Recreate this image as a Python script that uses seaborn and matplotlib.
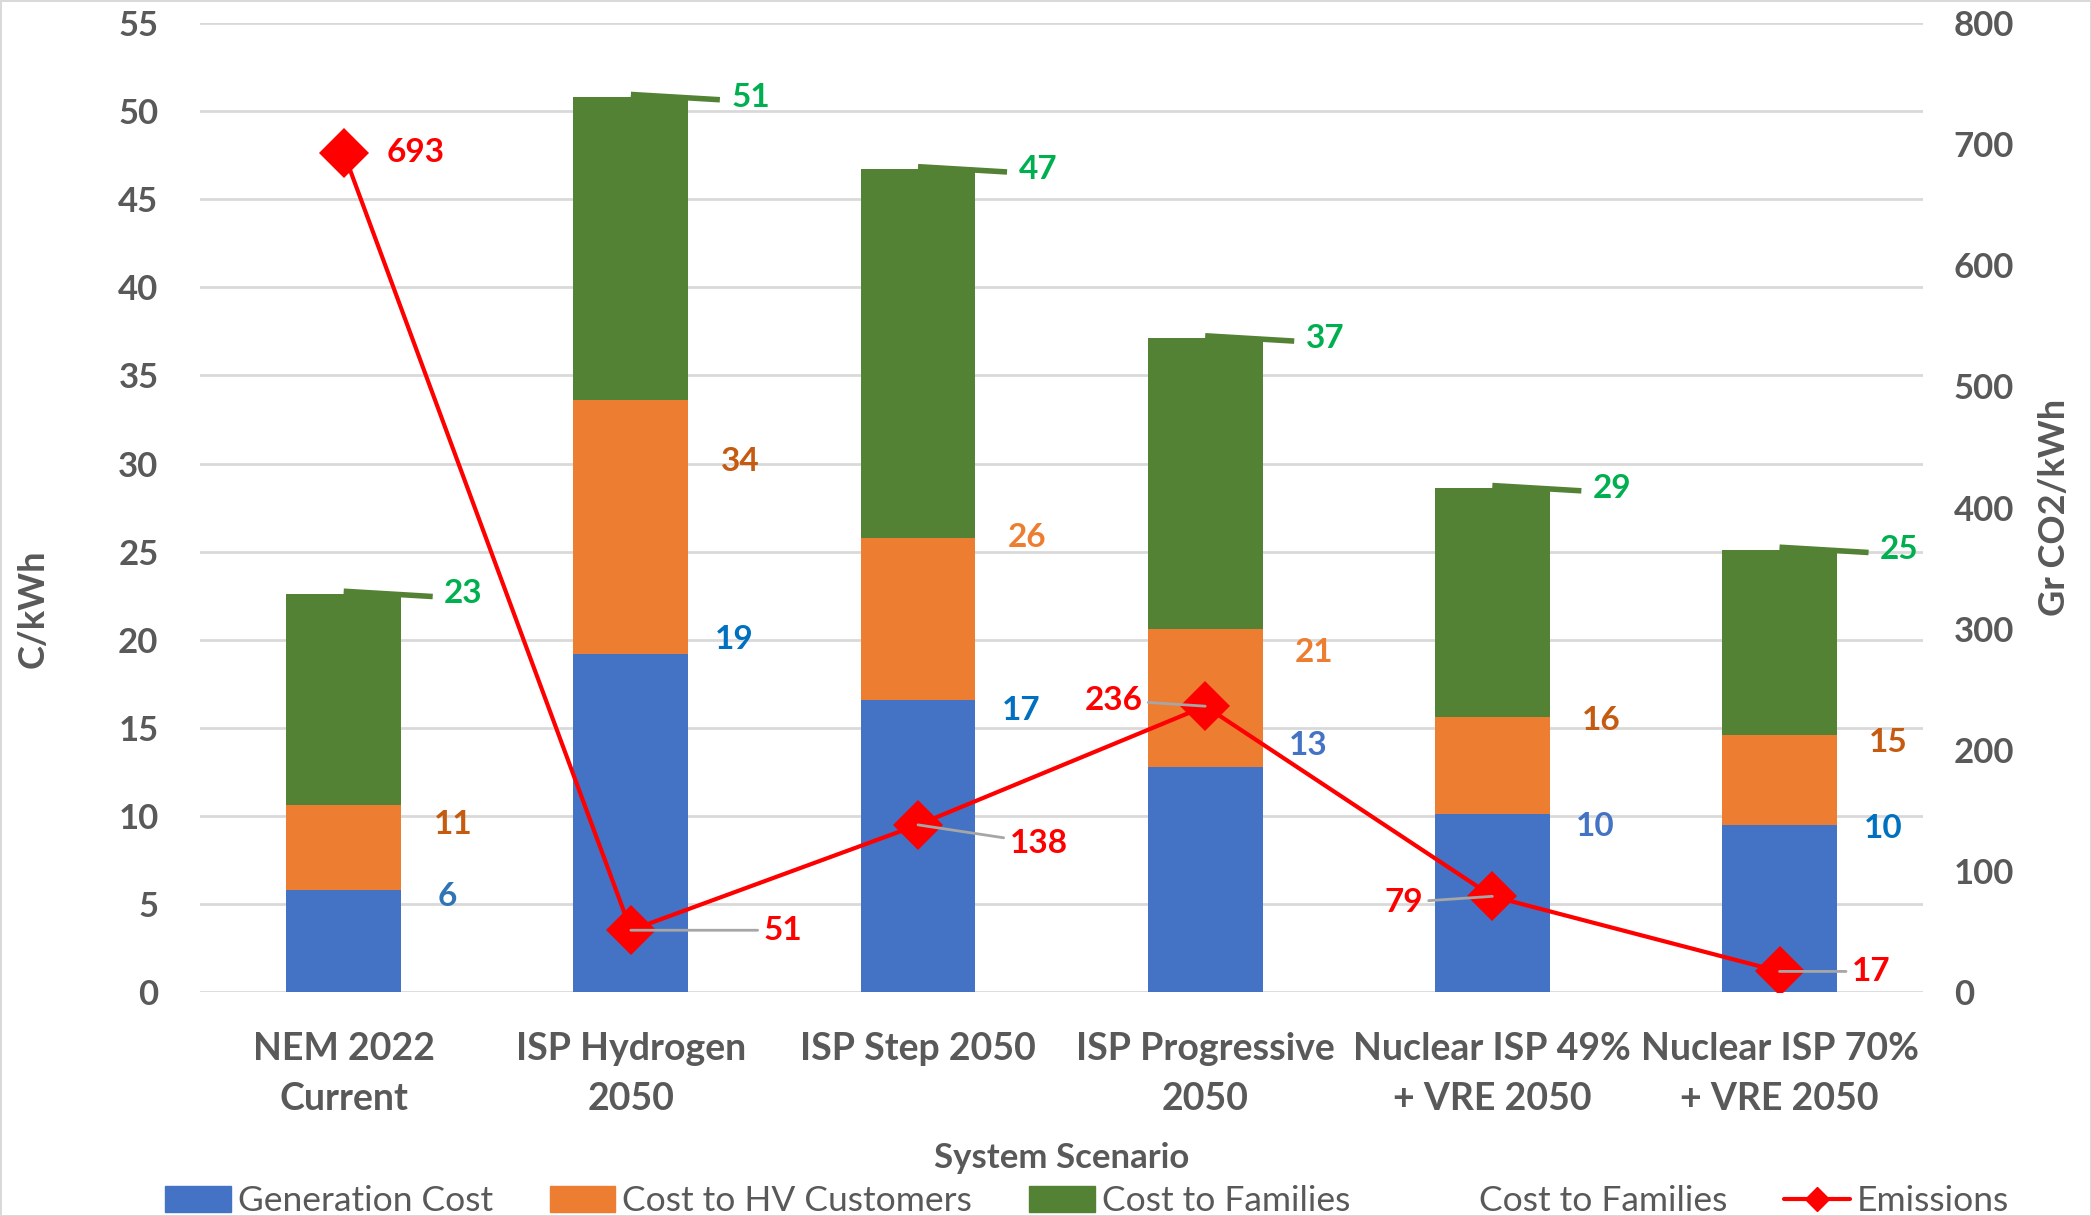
import numpy as np
import pandas as pd
import matplotlib.pyplot as plt
from matplotlib.patches import Patch
from matplotlib.lines import Line2D
import seaborn as sns

# Chart data (C/kWh segments per scenario, emissions in g CO2/kWh)
scenarios = ["NEM 2022\nCurrent", "ISP Hydrogen\n2050", "ISP Step 2050",
             "ISP Progressive\n2050", "Nuclear ISP 49%\n+ VRE 2050",
             "Nuclear ISP 70%\n+ VRE 2050"]
generation_cost = [5.8, 19.2, 16.6, 12.8, 10.1, 9.5]
hv_cost = [4.8, 14.4, 9.2, 7.8, 5.5, 5.1]
families_cost = [12.0, 17.2, 20.9, 16.5, 13.0, 10.5]
emissions = [693, 51, 138, 236, 79, 17]

# label placement tweaks (as placed by hand in the original)
emis_offsets = [(0.25, 0), (0.53, 0), (0.42, -15), (-0.32, 5), (-0.31, -5), (0.32, 0)]
blue_dy = [-0.35, 0.8, -0.6, 1.2, -0.7, -0.2]
orange_dy = [-1.1, -3.5, 0.0, -1.3, -0.2, -0.45]

blue_lbl_colors = ["#2E75B6", "#0070C0", "#0070C0", "#4472C4", "#4472C4", "#0070C0"]
orange_lbl_colors = ["#C55A11", "#C55A11", "#ED7D31", "#ED7D31", "#C55A11", "#C55A11"]

BLUE, ORANGE, GREEN, RED = "#4472C4", "#ED7D31", "#548235", "#FF0000"
GREY = "#595959"

df = pd.DataFrame({
    "scenario": scenarios,
    "gen": generation_cost,
    "hv": np.add(generation_cost, hv_cost),
})
df["total"] = df["hv"] + np.array(families_cost)

sns.set_style("white")
plt.rcParams["font.family"] = ["Lato", "DejaVu Sans"]

fig, ax = plt.subplots(figsize=(20.91, 12.16), dpi=100)
fig.subplots_adjust(left=0.0957, right=0.9197, top=0.981, bottom=0.1842)

# stacked bars: draw cumulative totals back to front
sns.barplot(data=df, x="scenario", y="total", color=GREEN, width=0.4,
            saturation=1, linewidth=0, ax=ax)
sns.barplot(data=df, x="scenario", y="hv", color=ORANGE, width=0.4,
            saturation=1, linewidth=0, ax=ax)
sns.barplot(data=df, x="scenario", y="gen", color=BLUE, width=0.4,
            saturation=1, linewidth=0, ax=ax)

ax.set_ylim(0, 55)
ax.set_yticks(range(0, 56, 5))
ax.set_xlim(-0.5, 5.5)
ax.set_axisbelow(True)
ax.yaxis.grid(True, color="#D9D9D9", linewidth=2)
for s in ax.spines.values():
    s.set_visible(False)
ax.tick_params(axis="y", length=0, pad=30, labelsize=25, labelcolor=GREY)
ax.tick_params(axis="x", length=0, pad=29, labelsize=27, labelcolor=GREY)
for t in ax.get_yticklabels():
    t.set_fontweight("bold")
for t in ax.get_xticklabels():
    t.set_fontweight("bold")
    t.set_linespacing(1.55)

ax.set_xlabel("System Scenario", fontsize=25, fontweight="bold", color=GREY)
ax.xaxis.set_label_coords(0.5, -0.155)
ax.set_ylabel("C/kWh", fontsize=26, fontweight="bold", color=GREY, va="center")
ax.yaxis.set_label_coords(-0.097, 0.396)

# bar value labels (cumulative)
for i in range(len(scenarios)):
    g, h, t = df.loc[i, "gen"], df.loc[i, "hv"], df.loc[i, "total"]
    ax.text(i + 0.36, g + blue_dy[i], f"{int(np.floor(g + 0.5))}", ha="center",
            va="center", fontsize=24, fontweight="bold", color=blue_lbl_colors[i])
    ax.text(i + 0.38, h + orange_dy[i], f"{int(np.floor(h + 0.5))}", ha="center",
            va="center", fontsize=24, fontweight="bold", color=orange_lbl_colors[i])
    ax.plot([i, i + 0.31], [t + 0.15, t - 0.15], color=GREEN, linewidth=4,
            solid_capstyle="butt")
    ax.text(i + 0.35, t, f"{int(np.floor(t + 0.5))}", ha="left", va="center",
            fontsize=24, fontweight="bold", color="#00B050")

# emissions on the secondary axis
ax2 = ax.twinx()
pos = np.arange(len(scenarios))
sns.lineplot(x=pos, y=emissions, ax=ax2, color=RED, linewidth=3, marker="D",
             markersize=25, markeredgewidth=0)
ax2.set_ylim(0, 800)
ax2.set_yticks(range(0, 801, 100))
ax2.set_xlim(-0.5, 5.5)
ax2.set_xlabel("")
for s in ax2.spines.values():
    s.set_visible(False)
ax2.tick_params(axis="y", length=0, pad=22, labelsize=25, labelcolor=GREY)
for t in ax2.get_yticklabels():
    t.set_fontweight("bold")
ax2.set_ylabel("Gr CO2/kWh", fontsize=26, fontweight="bold", color=GREY,
               rotation=90, va="center")
ax2.yaxis.set_label_coords(1.076, 0.50)

for i, v in enumerate(emissions):
    dx, dy = emis_offsets[i]
    arrow = None if i == 0 else dict(arrowstyle="-", color="#A6A6A6", lw=2,
                                      shrinkA=2, shrinkB=0)
    ax2.annotate(str(v), xy=(i, v), xytext=(i + dx, v + dy), textcoords="data",
                 ha="center", va="center", fontsize=24, fontweight="bold",
                 color=RED, arrowprops=arrow)

handles = [
    Patch(color=BLUE),
    Patch(color=ORANGE),
    Patch(color=GREEN),
    Line2D([], [], linestyle="none"),
    Line2D([], [], color=RED, linewidth=3, marker="D", markersize=12),
]
labels = ["Generation Cost", "Cost to HV Customers", "Cost to Families",
          "Cost to Families", "Emissions"]
fig.legend(handles, labels, loc="center", bbox_to_anchor=(0.52, 0.012), ncol=5,
           frameon=False, fontsize=25.5, labelcolor=GREY, handlelength=1.85,
           handleheight=0.75, handletextpad=0.2, columnspacing=1.6)

fig.patch.set_edgecolor("#D9D9D9")
fig.patch.set_linewidth(2)

fig.savefig("out.png", dpi=100, edgecolor=fig.get_edgecolor())
